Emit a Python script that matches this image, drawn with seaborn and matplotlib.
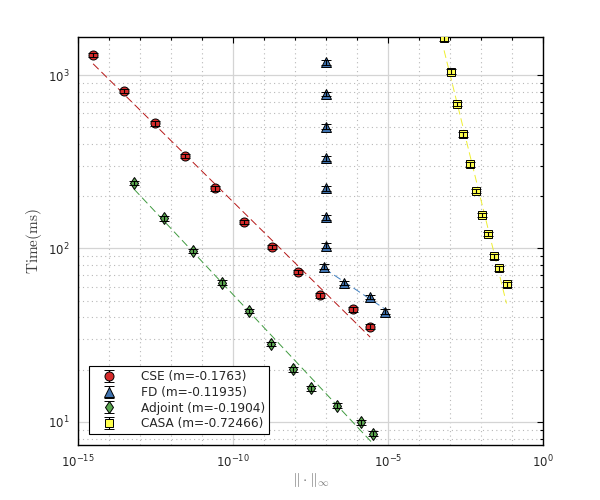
import numpy as np
import pandas as pd
import matplotlib
matplotlib.use("Agg")
import matplotlib.pyplot as plt
import matplotlib.ticker as mticker
import seaborn as sns

# data (x = error norm, y = time in ms)
methods = ["CSE", "FD", "Adjoint", "CASA"]
slopes = [-0.1763, -0.11935, -0.1904, -0.72466]

cse_err = [3.0e-15, 3.0e-14, 3.0e-13, 2.75e-12, 2.6e-11, 2.2e-10,
           1.8e-9, 1.26e-8, 6.3e-8, 7.4e-7, 2.6e-6]
cse_time = [1304, 809, 527, 341, 222, 142, 102, 73, 53.7, 44.6, 35.4]

fd_err = [1.0e-7, 1.0e-7, 1.0e-7, 1.0e-7, 1.0e-7, 1.0e-7, 1.0e-7,
          8.7e-8, 3.8e-7, 2.6e-6, 7.8e-6]
fd_time = [1184, 777, 504, 331, 222, 151, 104, 78.5, 63.1, 52.4, 43.2]

adj_err = [6.3e-14, 5.9e-13, 5.1e-12, 4.3e-11, 3.3e-10, 1.6e-9,
           8.7e-9, 3.3e-8, 2.2e-7, 1.35e-6, 3.3e-6]
adj_time = [238, 149, 96.8, 63.5, 43.6, 28.1, 20.1, 15.6, 12.4, 9.96, 8.57]

casa_err = [6.3e-4, 1.05e-3, 1.7e-3, 2.57e-3, 4.4e-3, 6.9e-3,
            1.05e-2, 1.7e-2, 2.6e-2, 3.7e-2, 6.5e-2]
casa_time = [1628, 1045, 681, 455, 306, 214, 156, 121, 90.2, 76.9, 62.2]

rel_err = 0.03          # size of the error bars (fraction of time)
fit_from = [0, 7, 0, 0]  # first point used for the slope line

series = [(cse_err, cse_time), (fd_err, fd_time),
          (adj_err, adj_time), (casa_err, casa_time)]
markers = ["o", "^", "d", "s"]
marker_sizes = [6.5, 6.5, 6.5, 5.3]
marker_colors = ["#d62a2a", "#3f72ae", "#5aa64f", "#ffff4d"]
line_colors = ["#b51616", "#3f7fbf", "#3f9a3f", "#eeee30"]

sns.set_theme(style="whitegrid")
plt.rcParams["mathtext.fontset"] = "cm"
plt.rcParams["font.family"] = ["DejaVu Sans"]

fig = plt.figure(figsize=(6, 5), dpi=100)
ax = fig.add_axes([0.1305, 0.11, 0.775, 0.8154])
ax.set_xscale("log")
ax.set_yscale("log")

handles = []
for name, m, (xs, ys), mk, ms, mc, lc, i0 in zip(methods, slopes, series, markers,
                                                marker_sizes, marker_colors,
                                                line_colors, fit_from):
    df = pd.DataFrame({"err": xs, "time": ys})
    sub = df.iloc[i0:]
    # intercept of the log-log line with the given slope
    b = np.mean(np.log10(sub["time"]) - m * np.log10(sub["err"]))
    xl = np.array([sub["err"].min(), sub["err"].max()])
    fit = pd.DataFrame({"err": xl, "time": 10 ** (m * np.log10(xl) + b)})
    sns.lineplot(data=fit, x="err", y="time", ax=ax, color=lc, lw=0.7,
                 linestyle=(0, (8, 4)), legend=False, zorder=1.5)
    eb = ax.errorbar(df["err"], df["time"], yerr=rel_err * df["time"],
                     fmt=mk, ms=ms, mfc=mc, mec="black", mew=0.7,
                     ecolor="black", elinewidth=0.8, capsize=3.5, capthick=0.8,
                     barsabove=True, label=f"{name} (m={m})", zorder=3)
    handles.append(eb)

ax.set_xlim(1e-15, 1e0)
ax.set_ylim(7.36, 1650)

ax.xaxis.set_major_locator(mticker.FixedLocator([1e-15, 1e-10, 1e-5, 1e0]))
ax.xaxis.set_minor_locator(mticker.LogLocator(base=10, subs=(1.0,), numticks=30))
ax.xaxis.set_minor_formatter(mticker.NullFormatter())
ax.yaxis.set_major_locator(mticker.LogLocator(base=10, numticks=10))
ax.yaxis.set_minor_locator(mticker.LogLocator(base=10, subs=np.arange(2, 10), numticks=10))
ax.yaxis.set_minor_formatter(mticker.NullFormatter())

ax.grid(True, which="major", color="#d4d4d4", lw=0.9, ls="-")
ax.grid(True, which="minor", color="#b8b8b8", lw=0.8, ls=(0, (1, 3)))
ax.set_axisbelow(True)

for sp in ax.spines.values():
    sp.set_color("black")
    sp.set_linewidth(1.0)
ax.tick_params(which="both", direction="in", top=True, right=True,
               colors="black", labelcolor="#262626", labelsize=8.5, width=0.8)
ax.tick_params(which="major", length=4, pad=6)
ax.tick_params(which="minor", length=2.5)

ax.set_xlabel(r"$\|\cdot\|_\infty$", fontsize=11, color="#7a7a7a", labelpad=1)
ax.set_ylabel(r"$\mathrm{Time(ms)}$", fontsize=11, color="#404040", labelpad=3)

leg = ax.legend(handles=handles, loc="lower left", bbox_to_anchor=(0.024, 0.026),
                borderaxespad=0, fontsize=8.7, frameon=True, fancybox=False,
                edgecolor="black", framealpha=1, labelspacing=0.22,
                handlelength=2.6, handletextpad=1.3, borderpad=0.35)
leg.get_frame().set_linewidth(0.8)

fig.savefig("out.png", dpi=100)
